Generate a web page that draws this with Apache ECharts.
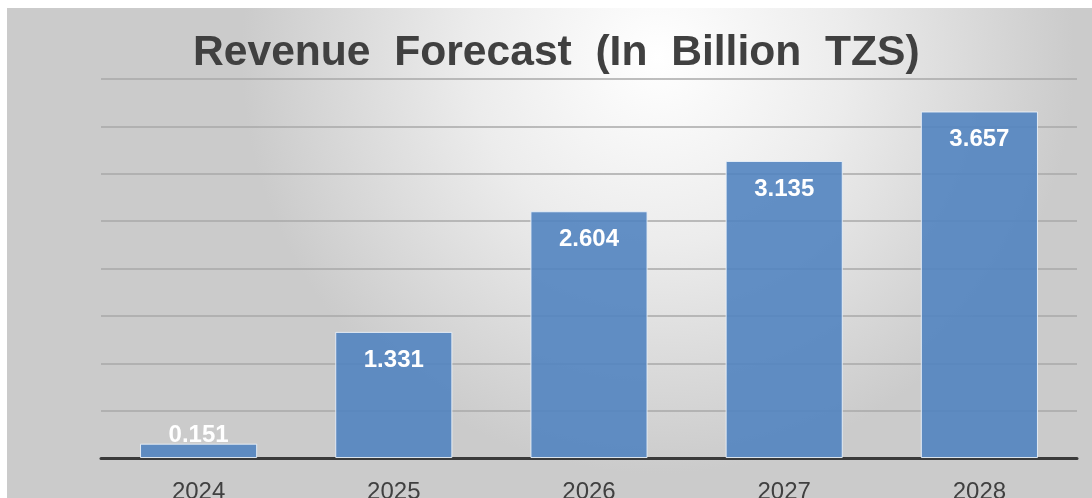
<!DOCTYPE html>
<html>
<head>
<meta charset="utf-8">
<script src="https://cdn.jsdelivr.net/npm/echarts@6/dist/echarts.min.js"></script>
<style>html,body{margin:0;padding:0;background:#fff;}#c{width:1092px;height:498px;}</style>
</head>
<body>
<div id="c"></div>
<script>
const categories = ['2024', '2025', '2026', '2027', '2028'];
const revenue = [0.151, 1.331, 2.604, 3.135, 3.657];
const titleText = 'Revenue  Forecast  (In  Billion  TZS)';

const chart = echarts.init(document.getElementById('c'));
const seriesData = revenue.map((v, i) => i === 0
  ? { value: v, label: { position: 'top', distance: -4 } }
  : { value: v });

chart.setOption({
  backgroundColor: '#ffffff',
  animation: false,
  graphic: [{
    type: 'rect', z: -10, silent: true,
    shape: { x: 7, y: 8, width: 1085, height: 490 },
    style: {
      fill: {
        type: 'radial', x: 0.6, y: 0.1, r: 0.85,
        colorStops: [
          { offset: 0, color: '#ffffff' },
          { offset: 0.45, color: '#ececec' },
          { offset: 1, color: '#cbcbcb' }
        ]
      }
    }
  }],
  title: {
    text: titleText,
    left: 188, top: 27,
    textStyle: { fontFamily: 'Liberation Sans', fontWeight: 'bold', fontSize: 42.6, color: '#404040' }
  },
  grid: { left: 101, right: 15, top: 79, bottom: 40, containLabel: false, outerBoundsMode: 'none' },
  xAxis: {
    type: 'category', data: categories,
    axisLine: { show: true, lineStyle: { color: '#3a3a3a', width: 3 } },
    axisTick: { show: false },
    axisLabel: { fontFamily: 'Liberation Sans', fontSize: 24, color: '#404040', margin: 22 }
  },
  yAxis: {
    type: 'value', min: 0, max: 4, interval: 0.5,
    axisLabel: { show: false },
    axisLine: { show: false },
    axisTick: { show: false },
    splitLine: { lineStyle: { color: '#a8a8a8', width: 1.5 } }
  },
  series: [{
    type: 'bar', data: seriesData, barWidth: '60%',
    itemStyle: { color: 'rgba(82,132,192,0.9)', borderColor: 'rgba(235,242,250,0.9)', borderWidth: 1 },
    label: {
      show: true, position: 'insideTop', distance: 16,
      fontFamily: 'Liberation Sans', fontWeight: 'bold', fontSize: 24, color: '#ffffff',
      formatter: p => p.value.toFixed(3)
    }
  }]
});
</script>
</body>
</html>
